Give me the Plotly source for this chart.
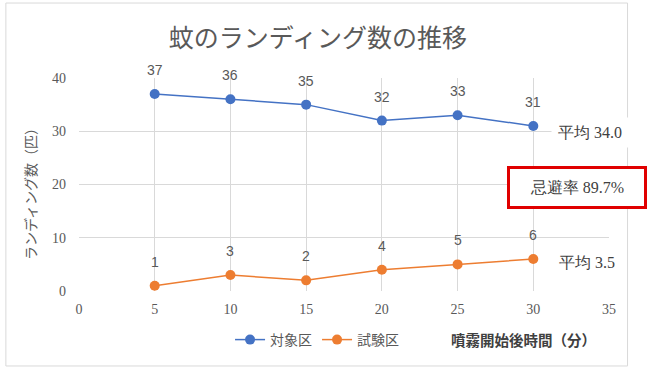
import plotly.graph_objects as go

minutes = [5, 10, 15, 20, 25, 30]
control = [37, 36, 35, 32, 33, 31]
test = [1, 3, 2, 4, 5, 6]
series_names = ["対象区", "試験区"]
x_ticks = [0, 5, 10, 15, 20, 25, 30, 35]
y_ticks = [0, 10, 20, 30, 40]
avg_control = "平均 34.0"
avg_test = "平均 3.5"
repel_text = "忌避率 89.7%"
title_text = "蚊のランディング数の推移"
x_title = "噴霧開始後時間（分）"
y_title = "ランディング数（匹）"

BLUE = "#4472C4"
ORANGE = "#ED7D31"
GREY = "#595959"
SERIF = "Liberation Serif, DejaVu Serif, serif"
JP = "Noto Sans CJK JP, sans-serif"

fig = go.Figure()
fig.add_trace(go.Scatter(x=minutes, y=control, name=series_names[0], mode="lines+markers",
                         line=dict(color=BLUE, width=1.5), marker=dict(color=BLUE, size=10)))
fig.add_trace(go.Scatter(x=minutes, y=test, name=series_names[1], mode="lines+markers",
                         line=dict(color=ORANGE, width=1.5), marker=dict(color=ORANGE, size=10)))

annots = []
for xs, ys in ((minutes, control), (minutes, test)):
    for xv, yv in zip(xs, ys):
        annots.append(dict(x=xv, y=yv, xref="x", yref="y", text=str(yv), showarrow=False,
                           yshift=24, font=dict(family="Liberation Sans Narrow, Liberation Sans, sans-serif",
                                                size=14, color=GREY)))

common = dict(xref="paper", yref="paper", showarrow=False, xanchor="center", yanchor="middle")
annots += [
    dict(x=0.965, y=0.742, text=avg_control, bgcolor="white", borderpad=6,
         font=dict(family=SERIF, size=16, color="#404040"), **common),
    dict(x=0.94, y=0.484, text=repel_text, bgcolor="white", bordercolor="#E00000", borderwidth=3,
         borderpad=2, width=130, height=33, font=dict(family=SERIF, size=16, color="#404040"), **common),
    dict(x=0.958, y=0.136, text=avg_test, bgcolor="white", borderpad=6,
         font=dict(family=SERIF, size=16, color="#404040"), **common),
    dict(x=0.838, y=-0.23, text="<b>" + x_title + "</b>",
         font=dict(family=JP, size=14.5, color="#404040"), **common),
    dict(x=-0.0925, y=0.474, text=y_title, textangle=-90,
         font=dict(family=JP, size=14, color=GREY), **common),
]

fig.update_layout(
    width=658, height=378,
    margin=dict(l=79, r=49, t=78, b=87, autoexpand=False),
    paper_bgcolor="white", plot_bgcolor="white",
    title=dict(text=title_text, x=0.483, xanchor="center", y=0.9, yanchor="middle",
               font=dict(family=JP, size=25, color=GREY)),
    xaxis=dict(range=[0, 35], tickvals=x_ticks, showgrid=True, gridcolor="#D9D9D9",
               zeroline=False, showline=False, ticks="", ticklabelstandoff=8,
               tickfont=dict(family=SERIF, size=14, color=GREY)),
    yaxis=dict(range=[0, 40], tickvals=y_ticks, showgrid=True, gridcolor="#D9D9D9",
               zeroline=False, showline=False, ticks="", ticklabelstandoff=12,
               tickfont=dict(family=SERIF, size=14, color=GREY)),
    legend=dict(orientation="h", x=0.285, y=-0.23, xanchor="left", yanchor="middle",
                itemwidth=30, tracegroupgap=0,
                font=dict(family=JP, size=14, color=GREY), bgcolor="rgba(0,0,0,0)"),
    annotations=annots,
    shapes=[dict(type="rect", xref="paper", yref="paper", x0=-0.138, x1=1.035, y0=-0.352, y1=1.352,
                 line=dict(color="#D9D9D9", width=1), layer="below")],
)

fig.write_html("out.html", config={"displayModeBar": False},
               post_script="document.body.style.margin='0';")
